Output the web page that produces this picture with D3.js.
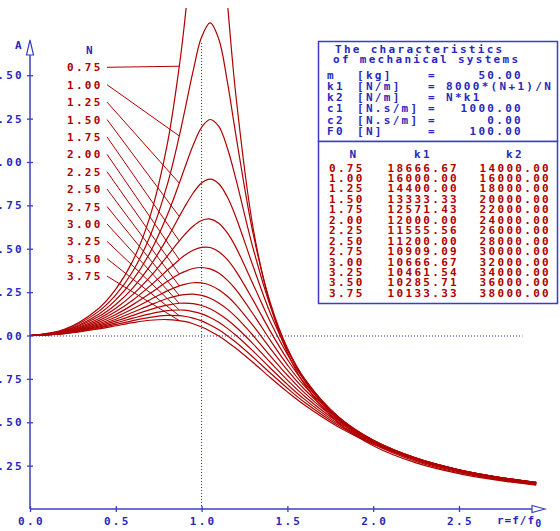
<!DOCTYPE html>
<html>
<head>
<meta charset="utf-8">
<script src="https://cdn.jsdelivr.net/npm/d3@7"></script>
<style>
  body { margin: 0; background: #fff; }
  svg text {
    font-family: "DejaVu Sans Mono", monospace;
    font-weight: bold;
    font-size: 11px;
    letter-spacing: 2.3px;
  }
</style>
</head>
<body>
<svg id="chart" width="560" height="531"></svg>
<script>
// frequency ratio r = f/f0 (shared by every curve)
const ratios = [0, 0.2, 0.4, 0.5, 0.6, 0.7, 0.8, 0.87, 0.9, 0.95, 1.0, 1.05, 1.1, 1.15,
  1.2, 1.3, 1.4, 1.5, 1.6, 1.8, 2.0, 2.25, 2.5, 2.75, 2.95];

const stiffnessRatios = [0.75, 1.0, 1.25, 1.5, 1.75, 2.0, 2.25, 2.5, 2.75, 3.0, 3.25, 3.5, 3.75];

// amplitude A read for each N
const ampN075 = [1, 1.035, 1.156, 1.267, 1.432, 1.688, 2.103, 2.552, 2.796, 3.262, 3.693, 3.821, 3.490, 2.923, 2.382, 1.621, 1.177, 0.901, 0.718, 0.494, 0.365, 0.266, 0.204, 0.162, 0.137];
const ampN100 = [1, 1.032, 1.139, 1.234, 1.372, 1.574, 1.870, 2.150, 2.287, 2.522, 2.720, 2.802, 2.709, 2.463, 2.154, 1.588, 1.190, 0.924, 0.740, 0.510, 0.376, 0.274, 0.209, 0.166, 0.140];
const ampN125 = [1, 1.028, 1.123, 1.205, 1.320, 1.479, 1.694, 1.878, 1.961, 2.095, 2.200, 2.245, 2.205, 2.081, 1.901, 1.503, 1.171, 0.927, 0.750, 0.521, 0.385, 0.280, 0.214, 0.169, 0.143];
const ampN150 = [1, 1.026, 1.109, 1.179, 1.275, 1.401, 1.561, 1.686, 1.739, 1.820, 1.879, 1.901, 1.875, 1.798, 1.682, 1.399, 1.130, 0.915, 0.750, 0.527, 0.391, 0.285, 0.217, 0.172, 0.145];
const ampN175 = [1, 1.023, 1.097, 1.157, 1.237, 1.338, 1.458, 1.545, 1.580, 1.630, 1.663, 1.671, 1.647, 1.591, 1.508, 1.296, 1.079, 0.891, 0.741, 0.529, 0.395, 0.289, 0.220, 0.174, 0.147];
const ampN200 = [1, 1.021, 1.086, 1.138, 1.205, 1.286, 1.376, 1.437, 1.461, 1.491, 1.508, 1.507, 1.483, 1.437, 1.371, 1.204, 1.025, 0.862, 0.726, 0.527, 0.397, 0.291, 0.223, 0.176, 0.148];
const ampN225 = [1, 1.019, 1.076, 1.121, 1.178, 1.243, 1.311, 1.354, 1.368, 1.386, 1.392, 1.384, 1.360, 1.319, 1.264, 1.124, 0.973, 0.831, 0.708, 0.522, 0.396, 0.293, 0.224, 0.177, 0.150];
const ampN250 = [1, 1.017, 1.068, 1.107, 1.154, 1.206, 1.257, 1.286, 1.295, 1.304, 1.303, 1.290, 1.264, 1.226, 1.177, 1.057, 0.926, 0.800, 0.689, 0.515, 0.394, 0.293, 0.225, 0.179, 0.151];
const ampN275 = [1, 1.015, 1.061, 1.094, 1.134, 1.175, 1.213, 1.231, 1.236, 1.238, 1.231, 1.215, 1.188, 1.152, 1.107, 1.000, 0.883, 0.771, 0.669, 0.507, 0.391, 0.293, 0.226, 0.179, 0.152];
const ampN300 = [1, 1.014, 1.054, 1.083, 1.116, 1.149, 1.175, 1.186, 1.187, 1.184, 1.173, 1.154, 1.126, 1.091, 1.049, 0.952, 0.846, 0.743, 0.650, 0.498, 0.388, 0.292, 0.226, 0.180, 0.152];
const ampN325 = [1, 1.012, 1.048, 1.073, 1.100, 1.125, 1.143, 1.147, 1.146, 1.138, 1.125, 1.104, 1.076, 1.041, 1.001, 0.910, 0.813, 0.718, 0.632, 0.489, 0.383, 0.290, 0.226, 0.180, 0.153];
const ampN350 = [1, 1.011, 1.043, 1.064, 1.086, 1.105, 1.116, 1.114, 1.111, 1.100, 1.084, 1.061, 1.033, 0.999, 0.961, 0.875, 0.784, 0.696, 0.615, 0.480, 0.378, 0.288, 0.225, 0.180, 0.153];
const ampN375 = [1, 1.010, 1.038, 1.056, 1.074, 1.088, 1.092, 1.086, 1.081, 1.068, 1.049, 1.025, 0.997, 0.963, 0.926, 0.844, 0.758, 0.675, 0.599, 0.471, 0.373, 0.286, 0.224, 0.180, 0.153];

const curves = [ampN075, ampN100, ampN125, ampN150, ampN175, ampN200, ampN225,
  ampN250, ampN275, ampN300, ampN325, ampN350, ampN375];

const k1Values = [18666.67, 16000.00, 14400.00, 13333.33, 12571.43, 12000.00, 11555.56,
  11200.00, 10909.09, 10666.67, 10461.54, 10285.71, 10133.33];
const k2Values = [14000, 16000, 18000, 20000, 22000, 24000, 26000, 28000, 30000, 32000,
  34000, 36000, 38000];

const yTicks = [0.25, 0.5, 0.75, 1.0, 1.25, 1.5, 1.75, 2.0, 2.25, 2.5];
const xTicks = [0, 0.5, 1.0, 1.5, 2.0, 2.5];

const titleLines = ["The characteristics", "of mechanical systems"];
const paramNames = ["m", "k1", "k2", "c1", "c2", "F0"];
const paramUnits = ["[kg]", "[N/m]", "[N/m]", "[N.s/m]", "[N.s/m]", "[N]"];
const paramValues = ["50.00", "8000*(N+1)/N", "N*k1", "1000.00", "0.00", "100.00"];

const leaderRatio = 0.87;   // leaders point at each curve at this r
const guideRatio = 1.0;     // vertical dotted guide
const guideEnd = 2.87;      // end of horizontal dotted guide

const red = "#b00000",
  blue = "#2828c0",
  axisBlue = "#3c3cc8";

const svg = d3.select("#chart");

const x = d3.scaleLinear().domain([0, 2.5]).range([30, 459]),
  y = d3.scaleLinear().domain([0, 2.5]).range([509, 75.25]);

svg.append("defs")
  .append("clipPath")
  .attr("id", "plotClip")
  .append("rect")
  .attr("x", x(0))
  .attr("y", 8)
  .attr("width", 530)
  .attr("height", y(0) - 8);

// dotted guides
const iGuide = ratios.indexOf(guideRatio);
svg.append("line")
  .attr("x1", x(guideRatio)).attr("x2", x(guideRatio))
  .attr("y1", y(0)).attr("y2", y(ampN100[iGuide]) + 5)
  .attr("stroke", blue).attr("stroke-width", 1)
  .attr("stroke-dasharray", "1,2");
svg.append("line")
  .attr("x1", x(0)).attr("x2", x(guideEnd))
  .attr("y1", y(1) + 0.5).attr("y2", y(1) + 0.5)
  .attr("stroke", blue).attr("stroke-width", 1)
  .attr("stroke-dasharray", "1,2");

// response curves
const line = d3.line()
  .x((d, i) => x(ratios[i]))
  .y(d => y(d))
  .curve(d3.curveCatmullRom.alpha(0.5));

svg.append("g")
  .attr("clip-path", "url(#plotClip)")
  .selectAll("path")
  .data(curves)
  .enter()
  .append("path")
  .attr("d", line)
  .attr("fill", "none")
  .attr("stroke", red)
  .attr("stroke-width", 1.2);

// legend labels with leaders
const iLeader = ratios.indexOf(leaderRatio);
const legendY = i => 67.3 + i * 17.4;

svg.append("text")
  .attr("x", 86).attr("y", 54)
  .attr("fill", blue)
  .text("N");

const legend = svg.append("g");
legend.selectAll("line")
  .data(curves)
  .enter()
  .append("line")
  .attr("x1", 107)
  .attr("y1", (d, i) => legendY(i))
  .attr("x2", x(leaderRatio))
  .attr("y2", d => y(d[iLeader]))
  .attr("stroke", red)
  .attr("stroke-width", 1);
legend.selectAll("text")
  .data(stiffnessRatios)
  .enter()
  .append("text")
  .attr("x", 67)
  .attr("y", (d, i) => legendY(i) + 4)
  .attr("fill", red)
  .text(d => d3.format(".2f")(d));

// axes
const yAxis = svg.append("g")
  .attr("transform", `translate(${x(0)},0)`)
  .call(d3.axisLeft(y).tickValues(yTicks).tickFormat(d3.format(".2f"))
    .tickSizeInner(3).tickSizeOuter(0).tickPadding(3));
yAxis.select(".domain").remove();
yAxis.selectAll(".tick line").attr("x1", 3).attr("stroke", axisBlue).attr("stroke-width", 1.3);
yAxis.selectAll(".tick text").attr("fill", blue).attr("font-size", null).attr("font-family", null);

const xAxis = svg.append("g")
  .attr("transform", `translate(0,${y(0)})`)
  .call(d3.axisBottom(x).tickValues(xTicks).tickFormat(d3.format(".1f"))
    .tickSizeInner(3).tickSizeOuter(0).tickPadding(5));
xAxis.select(".domain").remove();
xAxis.selectAll(".tick line").attr("y1", -3).attr("stroke", axisBlue).attr("stroke-width", 1.3);
xAxis.selectAll(".tick text").attr("fill", blue).attr("font-size", null).attr("font-family", null)
  .attr("dx", "1px");

svg.append("line")
  .attr("x1", x(0)).attr("x2", x(0))
  .attr("y1", y(0)).attr("y2", 55)
  .attr("stroke", axisBlue).attr("stroke-width", 1.5);
svg.append("line")
  .attr("x1", x(0)).attr("x2", 532)
  .attr("y1", y(0)).attr("y2", y(0))
  .attr("stroke", axisBlue).attr("stroke-width", 1.5);

svg.append("path")
  .attr("d", "M30,40 L33.5,55 L26.5,55 Z")
  .attr("fill", "#fff").attr("stroke", axisBlue).attr("stroke-width", 1.2);
svg.append("path")
  .attr("d", `M545,${y(0)} L532,${y(0) - 3.5} L532,${y(0) + 3.5} Z`)
  .attr("fill", "#fff").attr("stroke", axisBlue).attr("stroke-width", 1.2);

svg.append("text")
  .attr("x", 15).attr("y", 49)
  .attr("fill", blue)
  .text("A");

const xTitle = svg.append("text")
  .attr("x", 497).attr("y", 524)
  .attr("fill", blue)
  .style("letter-spacing", "1px")
  .text("r=f/f");
xTitle.append("tspan")
  .attr("dy", 3)
  .style("font-size", "10px")
  .text("0");

// info boxes
const box = svg.append("g");
box.append("rect")
  .attr("x", 318.5).attr("y", 41.5).attr("width", 239).attr("height", 100)
  .attr("fill", "#fff").attr("stroke", axisBlue).attr("stroke-width", 1.5);
box.append("rect")
  .attr("x", 318.5).attr("y", 141.5).attr("width", 239).attr("height", 162)
  .attr("fill", "#fff").attr("stroke", axisBlue).attr("stroke-width", 1.5);

box.selectAll(".title")
  .data(titleLines)
  .enter()
  .append("text")
  .attr("class", "title")
  .attr("x", (d, i) => (i === 0 ? 335 : 333))
  .attr("y", (d, i) => 53 + i * 10.3)
  .attr("fill", blue)
  .text(d => d);

const paramY = i => 78.5 + i * 11.3;
paramNames.forEach((name, i) => {
  box.append("text").attr("x", 327).attr("y", paramY(i)).attr("fill", blue).text(name);
  box.append("text").attr("x", 357).attr("y", paramY(i)).attr("fill", blue).text(paramUnits[i]);
  box.append("text").attr("x", 428).attr("y", paramY(i)).attr("fill", blue).text("=");
  const isNumber = !isNaN(+paramValues[i]);
  box.append("text")
    .attr("x", isNumber ? 523 : 446)
    .attr("y", paramY(i))
    .attr("text-anchor", isNumber ? "end" : "start")
    .attr("fill", blue)
    .text(paramValues[i]);
});

box.append("text").attr("x", 354).attr("y", 158).attr("text-anchor", "middle").attr("fill", blue).text("N");
box.append("text").attr("x", 423).attr("y", 158).attr("text-anchor", "middle").attr("fill", blue).text("k1");
box.append("text").attr("x", 515).attr("y", 158).attr("text-anchor", "middle").attr("fill", blue).text("k2");

const rowY = i => 171.5 + i * 10.45;
const fmt = d3.format(".2f");
box.selectAll(".colN")
  .data(stiffnessRatios)
  .enter()
  .append("text")
  .attr("class", "colN")
  .attr("x", 329).attr("y", (d, i) => rowY(i))
  .attr("fill", red)
  .text(fmt);
box.selectAll(".colK1")
  .data(k1Values)
  .enter()
  .append("text")
  .attr("class", "colK1")
  .attr("x", 459).attr("y", (d, i) => rowY(i))
  .attr("text-anchor", "end")
  .attr("fill", red)
  .text(fmt);
box.selectAll(".colK2")
  .data(k2Values)
  .enter()
  .append("text")
  .attr("class", "colK2")
  .attr("x", 551).attr("y", (d, i) => rowY(i))
  .attr("text-anchor", "end")
  .attr("fill", red)
  .text(fmt);
</script>
</body>
</html>
